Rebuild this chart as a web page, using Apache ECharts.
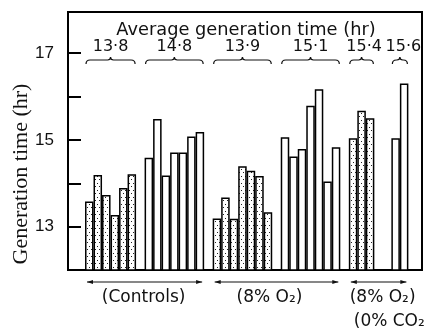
<!DOCTYPE html>
<html>
<head>
<meta charset="utf-8">
<script src="https://cdn.jsdelivr.net/npm/echarts@6/dist/echarts.min.js"></script>
<style>
  html, body { margin: 0; padding: 0; background: #fff; }
  #chart { width: 426px; height: 332px; }
</style>
</head>
<body>
<div id="chart"></div>
<script>
// Generation time (hr) of each culture, in plotting order.
const controlsStippled = [13.58, 14.19, 13.73, 13.27, 13.89, 14.21];
const controlsOpen     = [14.59, 15.48, 14.18, 14.71, 14.71, 15.08, 15.18];
const lowO2Stippled    = [13.19, 13.67, 13.18, 14.39, 14.29, 14.17, 13.33];
const lowO2Open        = [15.06, 14.62, 14.79, 15.79, 16.17, 14.04, 14.83];
const noCO2Stippled    = [15.04, 15.67, 15.50];
const noCO2Open        = [15.04, 16.30];

// Average generation time printed above each group of bars.
const groupAverages = ['13·8', '14·8', '13·9', '15·1', '15·4', '15·6'];

// Experimental conditions written under the axis.
const conditionLabels = [['(Controls)'], ['(8% O₂)'], ['(8% O₂)', '(0% CO₂)']];

// Axis labelling.
const yTickLabels = ['13', '15', '17'];
const yTitle = 'Generation time (hr)';
const topTitle = 'Average generation time (hr)';

// ---- layout (in bar-width slots along the x axis) ----
const groups = [
  { values: controlsStippled, stippled: true },
  { values: controlsOpen,     stippled: false },
  { values: lowO2Stippled,    stippled: true },
  { values: lowO2Open,        stippled: false },
  { values: noCO2Stippled,    stippled: true },
  { values: noCO2Open,        stippled: false }
];
const leadSlots = 2;                   // empty slots before the first bar
const gapBefore = [0, 1, 1, 1, 1, 2];  // empty slots before each group
const xSpan = 41.6;                    // total slots across the frame
const conditionGroups = [[0, 1], [2, 3], [4, 5]];
const averageShift = [0, 0, 0, 0, 2.5, 3.5];  // px nudges for crowded labels

const stippledData = [], openData = [], groupRanges = [];
let slot = leadSlots;
groups.forEach((g, gi) => {
  slot += gapBefore[gi];
  const start = slot;
  g.values.forEach(v => {
    (g.stippled ? stippledData : openData).push([slot + 0.5, v]);
    slot += 1;
  });
  groupRanges.push([start, slot]);
});

// Stipple pattern for the shaded bars.
const pat = document.createElement('canvas');
pat.width = 4; pat.height = 7;
const pctx = pat.getContext('2d');
pctx.fillStyle = '#fff';
pctx.fillRect(0, 0, 4, 7);
pctx.fillStyle = '#222';
pctx.fillRect(1, 1, 1, 1);
pctx.fillRect(3, 4, 1, 1);

const gridLeft = 68, gridTop = 12, gridW = 354, gridH = 258;
const barW = gridW / xSpan;

const chart = echarts.init(document.getElementById('chart'), null, { renderer: 'canvas' });

function bracePath(x0, x1, y) {
  const xm = (x0 + x1) / 2;
  return `M${x0},${y + 4} Q${x0},${y} ${x0 + 4},${y} L${xm - 3},${y} Q${xm},${y} ${xm},${y - 3} Q${xm},${y} ${xm + 3},${y} L${x1 - 4},${y} Q${x1},${y} ${x1},${y + 4}`;
}

const sansFont = "'Liberation Sans', 'DejaVu Sans', sans-serif";
const wideSans = "'DejaVu Sans', 'Liberation Sans', sans-serif";

chart.setOption({
  animation: false,
  grid: {
    left: gridLeft, top: gridTop, width: gridW, height: gridH,
    show: true, borderColor: '#000', borderWidth: 2, backgroundColor: 'transparent'
  },
  xAxis: {
    type: 'value', min: 0, max: xSpan, show: false
  },
  yAxis: {
    type: 'value', min: 12, max: 17.95, interval: 1,
    axisLine: { show: true, lineStyle: { color: '#000', width: 2 } },
    axisTick: { show: true, inside: true, length: 13, lineStyle: { color: '#000', width: 2 } },
    splitLine: { show: false },
    axisLabel: {
      margin: 14, color: '#111', fontSize: 17, fontFamily: sansFont,
      formatter: v => (yTickLabels.includes(String(v)) ? String(v) : '')
    }
  },
  graphic: [
    {
      type: 'text', x: 21, y: 174, rotation: Math.PI / 2,
      style: {
        text: yTitle, fill: '#111', font: "22px 'Liberation Serif', 'DejaVu Serif', serif",
        align: 'center', verticalAlign: 'middle'
      }
    },
    {
      type: 'text', x: 246, y: 30,
      style: {
        text: topTitle, fill: '#111', font: "17.8px " + wideSans,
        align: 'center', verticalAlign: 'middle'
      }
    }
  ],
  series: [
    {
      type: 'bar', data: stippledData, barWidth: barW, barGap: '-100%',
      itemStyle: { color: { image: pat, repeat: 'repeat' }, borderColor: '#000', borderWidth: 1.5 },
      clip: true
    },
    {
      type: 'bar', data: openData, barWidth: barW, barGap: '-100%',
      itemStyle: { color: '#fff', borderColor: '#000', borderWidth: 1.5 },
      clip: true
    },
    {
      // Braces and the average generation time of each group.
      type: 'custom', silent: true, clip: false,
      data: groupRanges.map((r, i) => [r[0], r[1], i]),
      encode: { x: [0, 1] },
      renderItem(params, api) {
        const x0 = api.coord([api.value(0), 12])[0] + 1;
        const x1 = api.coord([api.value(1), 12])[0] - 1;
        const top = params.coordSys.y;
        const i = api.value(2);
        return {
          type: 'group',
          children: [
            { type: 'path', shape: { pathData: bracePath(x0, x1, top + 48) },
              style: { fill: 'none', stroke: '#111', lineWidth: 1.2 } },
            { type: 'text', x: (x0 + x1) / 2 + averageShift[i], y: top + 35,
              style: { text: groupAverages[i], fill: '#111', font: '16px ' + wideSans,
                       align: 'center', verticalAlign: 'middle' } }
          ]
        };
      }
    },
    {
      // Double-headed lines and condition names under the axis.
      type: 'custom', silent: true, clip: false,
      data: conditionGroups.map((c, i) => [groupRanges[c[0]][0], groupRanges[c[1]][1], i]),
      encode: { x: [0, 1] },
      renderItem(params, api) {
        const x0 = api.coord([api.value(0), 12])[0] + 2;
        const x1 = api.coord([api.value(1), 12])[0] - 2;
        const bottom = params.coordSys.y + params.coordSys.height;
        const y = bottom + 12;
        const i = api.value(2);
        const lines = conditionLabels[i];
        const children = [
          { type: 'line', shape: { x1: x0, y1: y, x2: x1, y2: y }, style: { stroke: '#111', lineWidth: 1.2 } },
          { type: 'polygon', shape: { points: [[x0, y], [x0 + 6, y - 2], [x0 + 6, y + 2]] }, style: { fill: '#111' } },
          { type: 'polygon', shape: { points: [[x1, y], [x1 - 6, y - 2], [x1 - 6, y + 2]] }, style: { fill: '#111' } }
        ];
        const cx = (x0 + x1) / 2;
        const shifts = [[-1], [-7], [4, 14]];
        lines.forEach((t, k) => {
          children.push({
            type: 'text', x: cx + shifts[i][k], y: bottom + 28 + k * 24,
            style: { text: t, fill: '#111', font: '17px ' + wideSans, align: 'center', verticalAlign: 'middle' }
          });
        });
        return { type: 'group', children };
      }
    }
  ]
});
</script>
</body>
</html>
